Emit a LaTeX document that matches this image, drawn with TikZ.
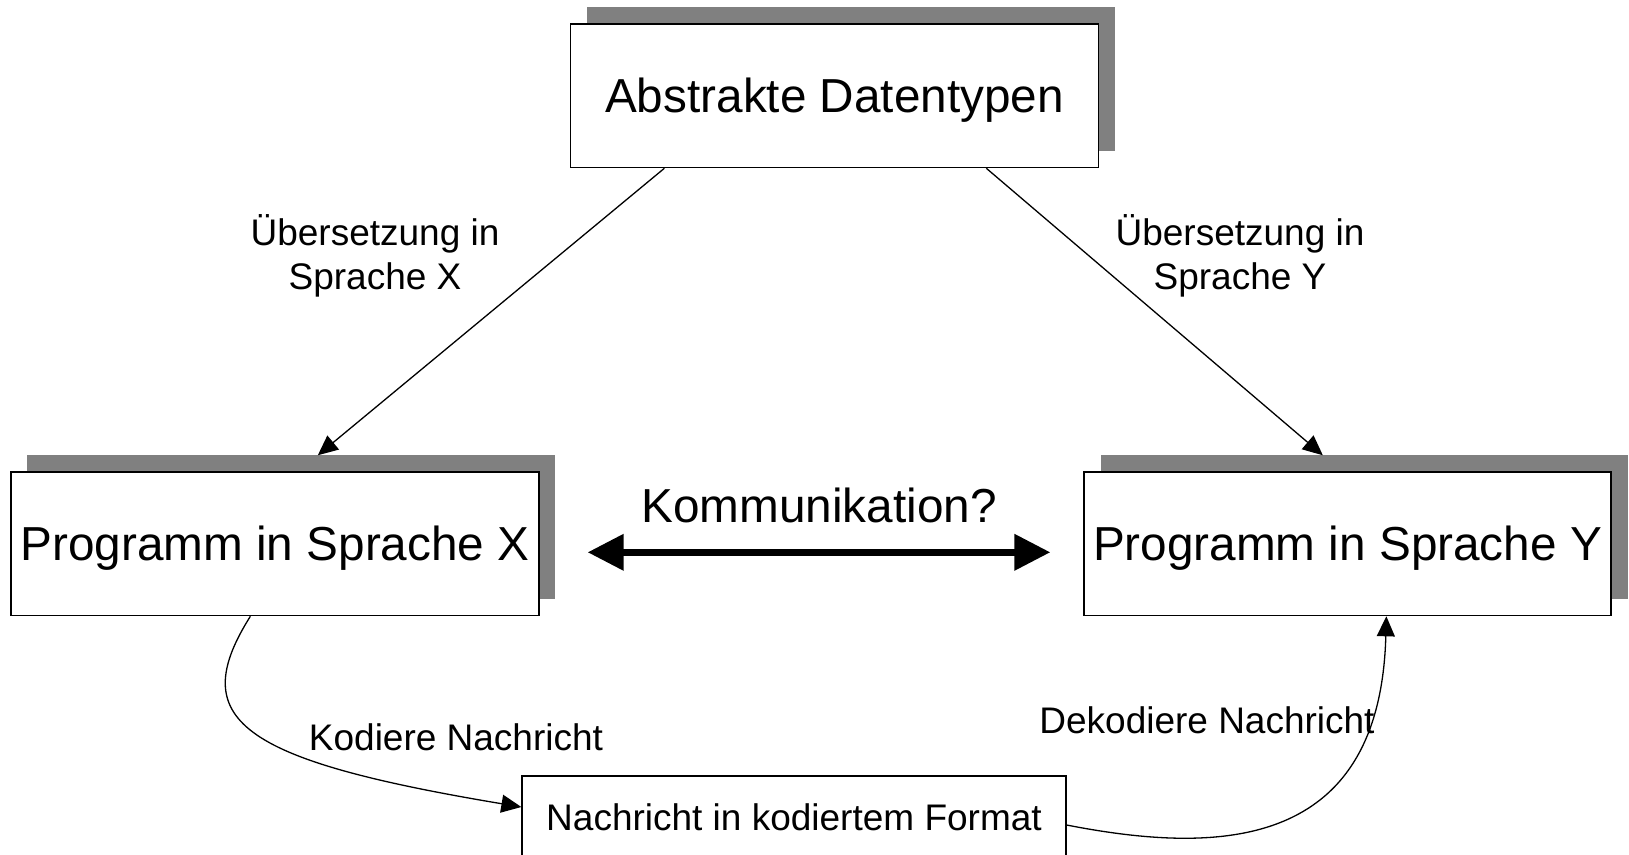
\documentclass[tikz,border=0pt]{standalone}
\usepackage{fontspec}
\setmainfont{Liberation Sans}
\usetikzlibrary{arrows.meta,calc}

\begin{document}
\begin{tikzpicture}[x=1pt,y=-1pt,
  bigfont/.style={font=\fontsize{47.7}{57}\selectfont},
  smallfont/.style={font=\fontsize{37}{44.4}\selectfont},
  box/.style={draw=black, line width=1.3pt, fill=white, inner sep=0pt,
    minimum height=143.7pt},
  bigbox/.style={box, bigfont, text height=34.2pt, text depth=0pt},
  smallbox/.style={box, smallfont, text height=26.5pt, text depth=0pt},
  shadowbox/.style={fill=gray, draw=none, inner sep=0pt, minimum height=143.7pt},
  thin/.style={draw=black, line width=1.3pt,
    -{Triangle[length=20pt,width=18pt]}},
  thick/.style={draw=black, line width=7pt,
    {Triangle[length=36pt,width=35pt]}-{Triangle[length=36pt,width=35pt]}},
  lbl/.style={smallfont, align=center, inner sep=0pt}
]
\clip (0,0) rectangle (1629,854);
\useasboundingbox (0,0) rectangle (1629,854);

% shadows behind the three main boxes
\node[shadowbox, minimum width=528pt] (topsh) at (850.5,79.3) {};
\node[shadowbox, minimum width=528pt] (lsh) at (291,527.3) {};
\node[shadowbox, minimum width=527pt] (rsh) at (1364,527.3) {};

% boxes
\node[bigbox, minimum width=528pt] (top) at (834.5,95.8) {Abstrakte Datentypen};
\node[bigbox, minimum width=528pt] (lbox) at (275,543.8) {Programm in Sprache X};
\node[bigbox, minimum width=527pt] (rbox) at (1347.5,543.8) {Programm in Sprache Y};
\node[smallbox, minimum width=544pt, minimum height=82pt] (bbox) at (794,817) {Nachricht in kodiertem Format};

% translation arrows
\draw[thin] ([xshift=94.5pt]top.south west) -- ([xshift=291pt]lsh.north west);
\draw[thin] ([xshift=416.5pt]top.south west) -- ([xshift=222.5pt]rsh.north west);
\node[lbl] (ux) at (375,256) {Übersetzung in\\Sprache X};
\node[lbl] (uy) at (1240,256) {Übersetzung in\\Sprache Y};

% communication
\draw[thick] ([xshift=48pt,yshift=-8.5pt]lbox.east) -- ([xshift=-33pt,yshift=-8.5pt]rbox.west)
  node[midway, bigfont, inner sep=0pt, yshift=47pt] (komm) {Kommunikation?};

% encoding / decoding
\draw[thin] ([xshift=240pt]lbox.south west) .. controls (185,720) and (240,760) .. ([yshift=10pt]bbox.west);
\draw[thin] ([yshift=-8pt]bbox.east) .. controls (1220,855) and (1380,850) .. ([xshift=303pt]rbox.south west);
\node[lbl] (kod) at (456,737) {Kodiere Nachricht};
\node[lbl] (dek) at (1207,720) {Dekodiere Nachricht};
\end{tikzpicture}
\end{document}
